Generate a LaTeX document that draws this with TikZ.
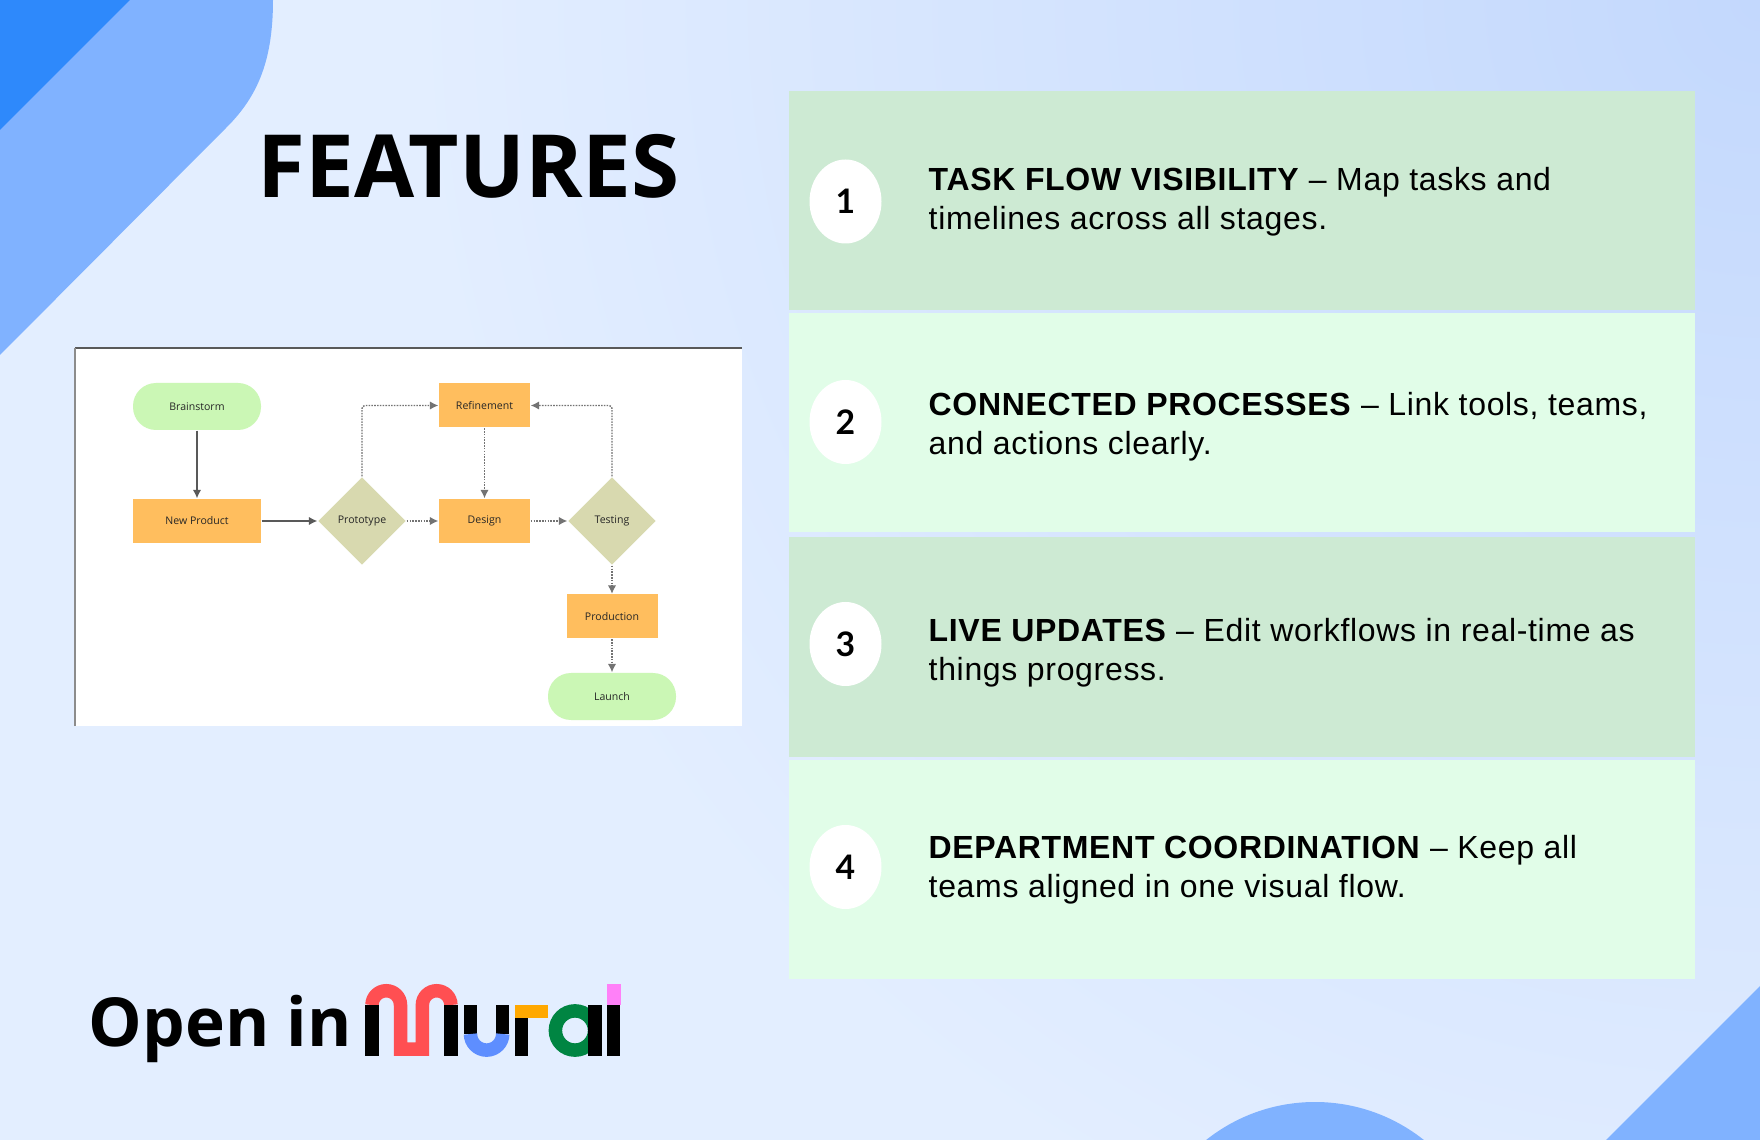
\documentclass[tikz,border=0pt]{standalone}
\usepackage{fontspec}
\setmainfont{Open Sans}
\newfontfamily\cardfont{Liberation Sans}[LetterSpace=2.1]
\newfontfamily\badgefont{Lato}
\usetikzlibrary{positioning, shapes, arrows.meta}
\definecolor{pagebg}{HTML}{E3EEFF}
\definecolor{pagetop}{HTML}{C3D8FD}
\definecolor{cornerblue}{HTML}{2E89FB}
\definecolor{softblue}{HTML}{80B2FF}
\definecolor{carddark}{HTML}{CDEAD3}
\definecolor{cardlight}{HTML}{E1FDE8}
\definecolor{pillgreen}{HTML}{CBF7B5}
\definecolor{boxorange}{HTML}{FFBE5E}
\definecolor{diamondkhaki}{HTML}{D8D9AF}
\definecolor{muralred}{HTML}{FF4F52}
\definecolor{muralblue}{HTML}{5E8EFF}
\definecolor{muralorange}{HTML}{FFA800}
\definecolor{muralgreen}{HTML}{008542}
\definecolor{muralpink}{HTML}{FF80F8}
\tikzset{
  card/.style={rectangle, minimum width=906*0.01cm, minimum height=219*0.01cm, inner sep=0pt},
  badge/.style={ellipse, fill=white, minimum width=72*0.01cm, minimum height=84*0.01cm, inner sep=0pt, font=\badgefont\fontsize{9.6}{11}\selectfont\bfseries},
  cardtext/.style={anchor=west, align=left, inner sep=0pt, font=\cardfont\fontsize{9.1}{11.1}\selectfont},
  pill/.style={rectangle, rounded corners=0.23cm, fill=pillgreen, minimum width=128*0.01cm, minimum height=47*0.01cm, inner sep=0pt, font=\fontsize{3}{4}\selectfont, text=black!85},
  flowbox/.style={rectangle, fill=boxorange, minimum width=91*0.01cm, minimum height=44*0.01cm, inner sep=0pt, font=\fontsize{3}{4}\selectfont, text=black!85},
  decision/.style={diamond, fill=diamondkhaki, minimum width=88*0.01cm, minimum height=88*0.01cm, inner sep=0pt, font=\fontsize{3}{4}\selectfont, text=black!85},
  solidflow/.style={-{Latex[length=2.4pt,width=2.4pt]}, black!65, line width=0.4pt},
  dotflow/.style={-{Latex[length=2.4pt,width=2.4pt]}, black!55, dash pattern=on 0.45pt off 0.35pt, line width=0.4pt, rounded corners=0.03cm},
  logostroke/.style={line width=0.135cm},
}
\begin{document}
\begin{tikzpicture}[x=0.01cm, y=-0.01cm]
  \useasboundingbox (0,0) rectangle (1760,1140);
  \begin{scope}
    \clip (0,0) rectangle (1760,1140);
    \fill[pagebg] (0,0) rectangle (1760,1140);
    \shade[inner color=pagetop, outer color=pagebg] (1760,0) circle[radius=1350];
    \fill[softblue] (1315,1277) circle[radius=175];
  \end{scope}
  \fill[softblue] (0,0) -- (273,0) .. controls (273,60) and (258,96) .. (227,127) -- (0,355) -- cycle;
  \fill[cornerblue] (0,0) -- (130,0) -- (0,130) -- cycle;
  \fill[softblue] (1760,986) -- (1760,1140) -- (1606,1140) -- cycle;

  \node[anchor=base west, inner sep=0pt, font=\fontsize{24.8}{28}\selectfont\bfseries] (title) at (257,197.5) {FEATURES};

  \node[card, fill=carddark] (cardA) at (1242,200.5) {};
  \node[card, fill=cardlight] (cardB) at (1242,423) {};
  \node[card, fill=carddark] (cardC) at (1242,647) {};
  \node[card, fill=cardlight] (cardD) at (1242,869.5) {};
  \node[badge] (badgeA) at (845.5,201.5) {1};
  \node[badge] (badgeB) at (845.5,422) {2};
  \node[badge] (badgeC) at (845.5,644) {3};
  \node[badge] (badgeD) at (845.5,867) {4};
  \node[cardtext] (textA) at (928,201.5) {\textbf{TASK FLOW VISIBILITY} – Map tasks and\\timelines across all stages.};
  \node[cardtext] (textB) at (928,426.5) {\textbf{CONNECTED PROCESSES} – Link tools, teams,\\and actions clearly.};
  \node[cardtext] (textC) at (928,652.5) {\textbf{LIVE UPDATES} – Edit workflows in real-time as\\things progress.};
  \node[cardtext] (textD) at (928,869.5) {\textbf{DEPARTMENT COORDINATION} – Keep all\\teams aligned in one visual flow.};

  \fill[white] (75,348) rectangle (742,726);
  \draw[black!65, line width=0.5pt] (75,348) -- (742,348);
  \draw[black!45, line width=0.3pt] (75,726) -- (75,348);
  \node[pill] (brainstorm) at (197,406.5) {Brainstorm};
  \node[flowbox, minimum width=128*0.01cm] (newproduct) at (197,521) {New Product};
  \node[decision] (prototype) at (362,521) {Prototype};
  \node[flowbox] (design) at (484.5,521) {Design};
  \node[flowbox] (refinement) at (484.5,405.5) {Refinement};
  \node[decision] (testing) at (612,521) {Testing};
  \node[flowbox] (production) at (612,616.5) {Production};
  \node[pill] (launch) at (612,696.5) {Launch};
  \draw[solidflow] (brainstorm) -- (newproduct);
  \draw[solidflow] (newproduct) -- (prototype);
  \draw[dotflow] (prototype) -- (design);
  \draw[dotflow] (design) -- (testing);
  \draw[dotflow] (refinement) -- (design);
  \draw[dotflow] (testing) -- (production);
  \draw[dotflow] (production) -- (launch);
  \draw[dotflow] (prototype.north) |- (refinement.west);
  \draw[dotflow] (testing.north) |- (refinement.east);

  \node[anchor=base west, inner sep=0pt, font=\fontsize{19.2}{24}\selectfont\bfseries] (openin) at (88,1046) {Open in};
  \draw[muralred, logostroke, miter limit=10] (372,1005) arc (180:360:14.25) -- (400.5,1049) -- (422.4,1049) -- (422.4,1005) arc (180:360:14.25);
  \draw[black, logostroke] (372,1005) -- (372,1056);
  \draw[black, logostroke] (451,1005) -- (451,1056);
  \draw[black, logostroke] (470.5,1005) -- (470.5,1034);
  \draw[black, logostroke] (502.7,1005) -- (502.7,1034);
  \draw[muralblue, logostroke] (470.5,1034) arc (180:0:16.1);
  \draw[black, logostroke] (521.5,1018) -- (521.5,1056);
  \fill[muralorange] (515,1005) rectangle (548,1018);
  \draw[muralgreen, logostroke] (575,1030.5) circle[radius=19.6];
  \draw[black, logostroke] (595,1005) -- (595,1056);
  \draw[black, logostroke] (613.7,1005) -- (613.7,1056);
  \fill[muralpink] (607,984) rectangle (620.5,1005);
\end{tikzpicture}
\end{document}
